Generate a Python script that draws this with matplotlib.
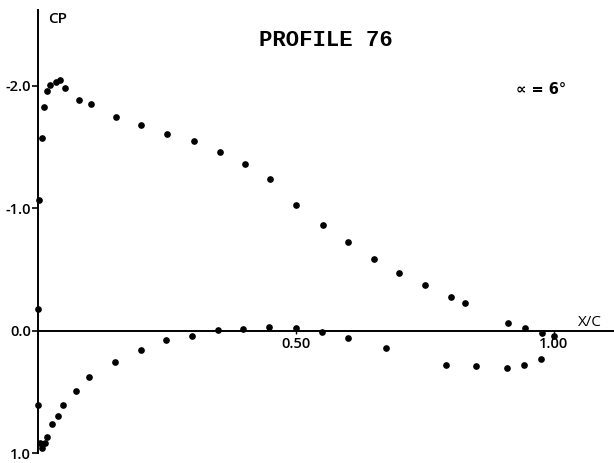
import matplotlib
matplotlib.use("Agg")
import matplotlib.pyplot as plt

# Upper surface (suction side)
upper_x = [0.0, 0.0025, 0.007, 0.011, 0.017, 0.023, 0.034, 0.043, 0.053, 0.079,
           0.103, 0.152, 0.20, 0.25, 0.303, 0.352, 0.401, 0.45, 0.50, 0.552,
           0.601, 0.651, 0.70, 0.75, 0.80, 0.828, 0.91, 0.944, 0.977, 1.0]
upper_cp = [-0.177, -1.069, -1.573, -1.829, -1.962, -2.008, -2.030, -2.051, -1.981, -1.886,
            -1.856, -1.749, -1.682, -1.606, -1.553, -1.459, -1.361, -1.238, -1.031, -0.863,
            -0.729, -0.590, -0.476, -0.378, -0.280, -0.231, -0.065, -0.022, 0.016, 0.041]

# Lower surface (pressure side)
lower_x = [0.0, 0.003, 0.007, 0.013, 0.017, 0.028, 0.038, 0.048, 0.074, 0.099,
           0.149, 0.20, 0.249, 0.298, 0.349, 0.398, 0.448, 0.50, 0.55, 0.60,
           0.674, 0.79, 0.849, 0.908, 0.942, 0.975]
lower_cp = [0.607, 0.912, 0.953, 0.912, 0.863, 0.762, 0.691, 0.607, 0.490, 0.373,
            0.253, 0.153, 0.076, 0.041, -0.006, -0.016, -0.030, -0.022, 0.006, 0.060,
            0.142, 0.275, 0.288, 0.300, 0.275, 0.229]

yticks = [-2.0, -1.0, 0.0, 1.0]
ytick_labels = ["-2.0", "-1.0", "0.0", "1.0"]
xticks = [0.5, 1.0]
xtick_labels = ["0.50", "1.00"]

title = "PROFILE 76"
alpha_text = "\u221d = 6\u00b0"

fig = plt.figure(figsize=(6.14, 4.63), dpi=100)
ax = fig.add_axes([0, 0, 1, 1])
ax.set_xlim(-0.0736, 1.1163)
ax.set_ylim(1.078, -2.702)

ax.plot(upper_x, upper_cp, 'o', color='black', markersize=3.8, linestyle='none')
ax.plot(lower_x, lower_cp, 'o', color='black', markersize=3.8, linestyle='none')

for s in ['top', 'right']:
    ax.spines[s].set_visible(False)
ax.spines['left'].set_position(('data', 0))
ax.spines['left'].set_bounds(-2.62, 1.0)
ax.spines['bottom'].set_position(('data', 0))
ax.spines['bottom'].set_bounds(0, 1.1163)
ax.spines['left'].set_linewidth(1.4)
ax.spines['bottom'].set_linewidth(1.4)

ax.set_yticks(yticks)
ax.set_yticklabels(ytick_labels, fontsize=10.5, family='Open Sans', weight='semibold')
ax.set_xticks(xticks)
ax.set_xticklabels(xtick_labels, fontsize=10.5, family='Open Sans', weight='semibold')
ax.tick_params(axis='y', direction='out', length=4, width=1.2, pad=1)
ax.tick_params(axis='x', direction='out', length=2, width=1.0, pad=2)

ax.text(0.019, -2.545, "CP", fontsize=11, family='Open Sans', weight='semibold',
        ha='left', va='center')
ax.text(0.558, -2.375, title, fontsize=16, family='Liberation Mono', weight='bold',
        ha='center', va='center')
ax.text(0.975, -1.97, alpha_text, fontsize=10.5, family='DejaVu Sans', weight='bold',
        ha='center', va='center')
ax.text(1.07, -0.07, "X/C", fontsize=11, family='Open Sans', ha='center', va='center')

fig.savefig("out.png", dpi=100)
